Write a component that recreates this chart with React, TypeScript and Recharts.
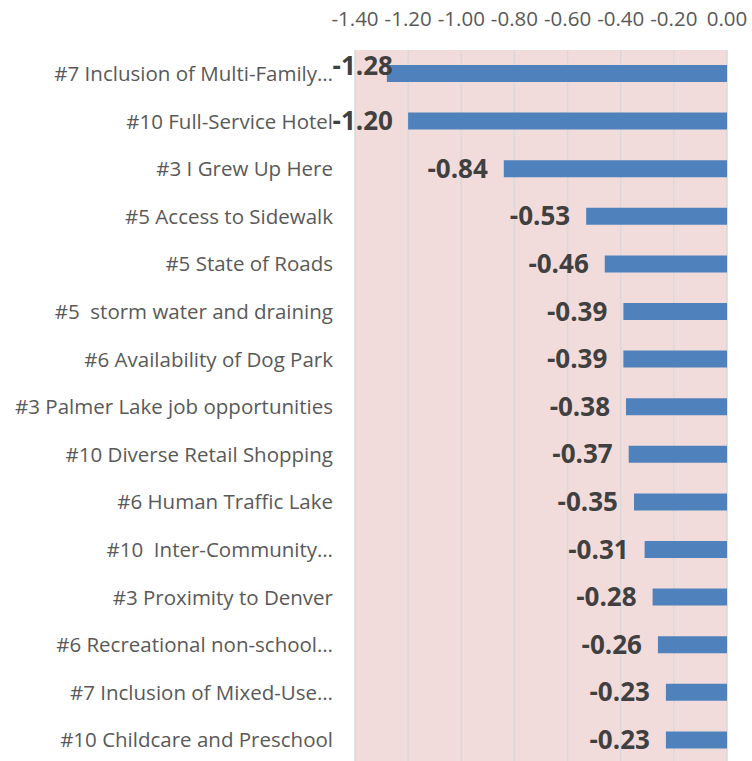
import { BarChart, Bar, XAxis, YAxis, CartesianGrid, LabelList } from 'recharts';

const CATEGORIES = [
  '#7 Inclusion of Multi-Family…',
  '#10 Full-Service Hotel',
  '#3 I Grew Up Here',
  '#5 Access to Sidewalk',
  '#5 State of Roads',
  '#5  storm water and draining',
  '#6 Availability of Dog Park',
  '#3 Palmer Lake job opportunities',
  '#10 Diverse Retail Shopping',
  '#6 Human Traffic Lake',
  '#10  Inter-Community…',
  '#3 Proximity to Denver',
  '#6 Recreational non-school…',
  '#7 Inclusion of Mixed-Use…',
  '#10 Childcare and Preschool',
];

const VALUES = [-1.28, -1.2, -0.84, -0.53, -0.46, -0.39, -0.39, -0.38, -0.37, -0.35, -0.31, -0.28, -0.26, -0.23, -0.23];

const X_TICKS = [-1.4, -1.2, -1.0, -0.8, -0.6, -0.4, -0.2, 0];

const data = CATEGORIES.map((name, i) => ({ name, value: VALUES[i] }));

const FONT = '"Open Sans", sans-serif';

function ValueLabel(props: any) {
  const { x, y, width, height, value } = props;
  const left = Math.min(x, x + width);
  let right = left - 16;
  let dy = 0;
  if (right < 380) dy = -8;
  right = Math.max(right, 393);
  return (
    <text x={right} y={y + height / 2 + dy} dy="0.35em" textAnchor="end" fill="#404040" fontFamily={FONT} fontWeight="bold" fontSize={26}>
      {Number(value).toFixed(2)}
    </text>
  );
}

function CategoryTick(props: any) {
  const { x, y, payload } = props;
  return (
    <text x={x} y={y} dy="0.35em" textAnchor="end" fill="#595959" fontFamily={FONT} fontSize={20.5} style={{ whiteSpace: 'pre' }}>
      {payload.value}
    </text>
  );
}

export default function App() {
  return (
    <div style={{ position: 'absolute', left: 0, top: 0, width: 752, height: 761, overflow: 'hidden', background: '#fff' }}>
      <BarChart width={752} height={764} data={data} layout="vertical" margin={{ top: 0, right: 25, left: 0, bottom: 0 }} barSize={17}>
        <CartesianGrid horizontal={false} stroke="#D9D9D9" strokeWidth={1.5} fill="#F2DCDB" fillOpacity={1} />
        <XAxis
          type="number"
          orientation="top"
          domain={[-1.4, 0]}
          ticks={X_TICKS}
          tickFormatter={(v: number) => v.toFixed(2)}
          axisLine={false}
          tickLine={false}
          tickSize={0}
          tickMargin={24}
          height={50}
          interval={0}
          tick={{ fill: '#595959', fontSize: 20.5, fontFamily: FONT }}
        />
        <YAxis
          type="category"
          dataKey="name"
          width={355}
          axisLine={false}
          tickLine={false}
          tickSize={0}
          tickMargin={22}
          interval={0}
          tick={<CategoryTick />}
        />
        <Bar dataKey="value" fill="#4F81BD" isAnimationActive={false}>
          <LabelList dataKey="value" content={ValueLabel} />
        </Bar>
      </BarChart>
    </div>
  );
}
